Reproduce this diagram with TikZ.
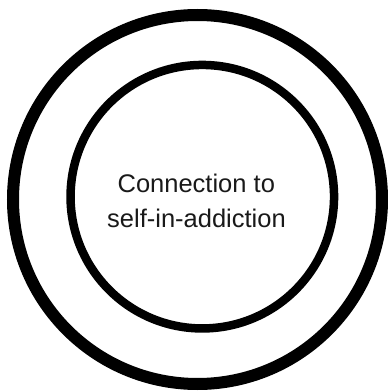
\documentclass[tikz,border=0pt]{standalone}
\usepackage{fontspec}
\setmainfont{Liberation Sans}
\begin{document}
\begin{tikzpicture}[x=1pt,y=1pt,
  ring/.style={draw=black,circle,inner sep=0pt,fill=none},
  label/.style={anchor=base,inner sep=0pt,font=\fontsize{25.5}{35}\selectfont,text=black!90}]
\useasboundingbox (0,0) rectangle (388,392);
\node[ring,line width=12pt,minimum size=369pt] (outer) at (197.5,192.5) {};
\node[ring,line width=8.5pt,minimum size=263.5pt] (inner) at (202.3,195.3) {};
\node[label] (line1) at (196.3,199.7) {Connection to};
\node[label] (line2) at (196.5,164.7) {self-in-addiction};
\end{tikzpicture}
\end{document}
